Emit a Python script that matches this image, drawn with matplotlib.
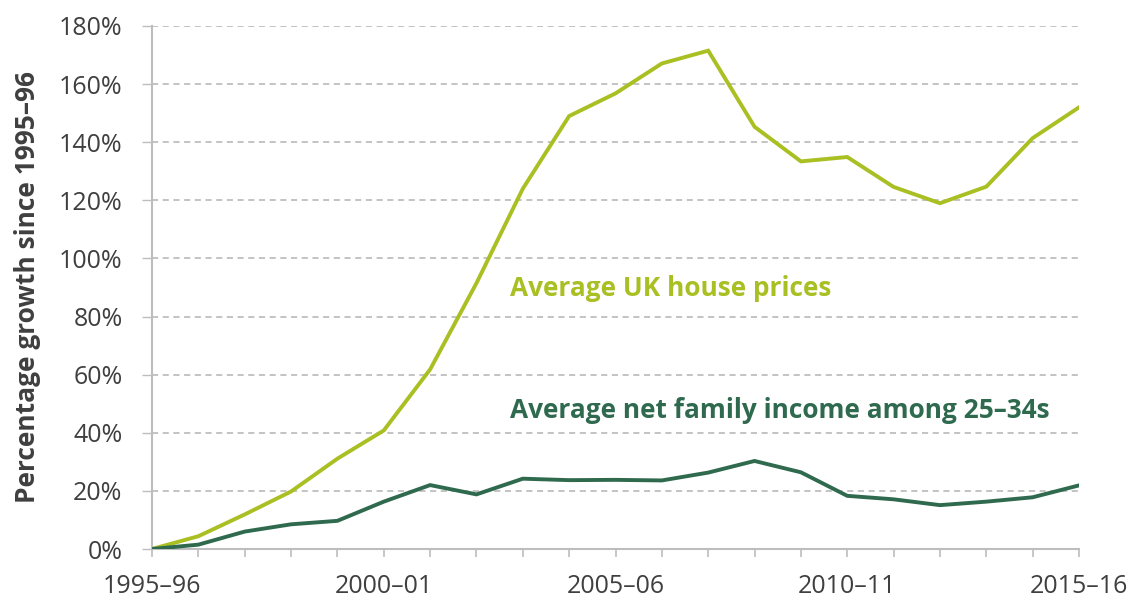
import matplotlib
matplotlib.use("Agg")
import matplotlib.pyplot as plt
from matplotlib.ticker import FixedLocator, FuncFormatter

plt.rcParams["font.family"] = ["Open Sans", "DejaVu Sans"]

# Years 1995-96 .. 2015-16
years = [f"{y}\u2013{str(y + 1)[-2:]}" for y in range(1995, 2016)]
house_prices = [0, 4.4, 11.9, 19.8, 31.1, 40.8, 61.8, 91.5, 124.0, 149.0,
                156.8, 167.1, 171.5, 145.3, 133.4, 134.9, 124.6, 119.0,
                124.7, 141.4, 152.0]
income_25_34 = [0, 1.5, 6.0, 8.5, 9.7, 16.3, 22.0, 18.8, 24.2, 23.7,
                23.8, 23.6, 26.3, 30.3, 26.4, 18.3, 17.1, 15.1, 16.3,
                17.8, 21.9]
tick_labels = ["1995\u201396", "2000\u201301", "2005\u201306", "2010\u201311", "2015\u201316"]

LIME = "#A9BF22"
DARK = "#2F6A4F"
GREY_TXT = "#3f3f3f"

fig = plt.figure(figsize=(11.37, 6.01), dpi=100)
ax = fig.add_axes([0.1337, 0.0865, 0.8153, 0.8703])

x = list(range(len(years)))
ax.plot(x, house_prices, color=LIME, lw=2.8, solid_joinstyle="miter", zorder=3)
ax.plot(x, income_25_34, color=DARK, lw=2.8, solid_joinstyle="miter", zorder=3)

ax.set_xlim(0, len(years) - 1)
ax.set_ylim(0, 180)
ax.set_yticks(range(0, 181, 20))
ax.yaxis.set_major_formatter(FuncFormatter(lambda v, p: f"{int(v)}%"))
ax.grid(axis="y", color="#b3b3b3", linestyle=(0, (4, 3)), linewidth=1.1)
ax.set_axisbelow(True)

ax.xaxis.set_major_locator(FixedLocator(x))
ax.set_xticklabels([lab if lab in tick_labels else "" for lab in years])

for s in ["top", "right"]:
    ax.spines[s].set_visible(False)
for s in ["left", "bottom"]:
    ax.spines[s].set_color("#bdbdbd")
    ax.spines[s].set_linewidth(1.5)

ax.tick_params(axis="x", length=5.8, width=1.2, color="#bdbdbd", labelsize=18,
               labelcolor=GREY_TXT, pad=12.5)
ax.tick_params(axis="y", length=7.2, width=1.0, color="#bdbdbd", labelsize=18,
               labelcolor=GREY_TXT, pad=14)

ax.set_ylabel("Percentage growth since 1995\u201396", fontsize=19,
              fontweight="bold", color=GREY_TXT, labelpad=13)

ax.text(7.72, 89.8, "Average UK house prices", color=LIME, fontsize=18.9,
        fontweight="bold", va="center", ha="left")
ax.text(7.72, 47.5, "Average net family income among 25\u201334s", color=DARK,
        fontsize=18.9, fontweight="bold", va="center", ha="left")

fig.savefig("out.png", dpi=100)
